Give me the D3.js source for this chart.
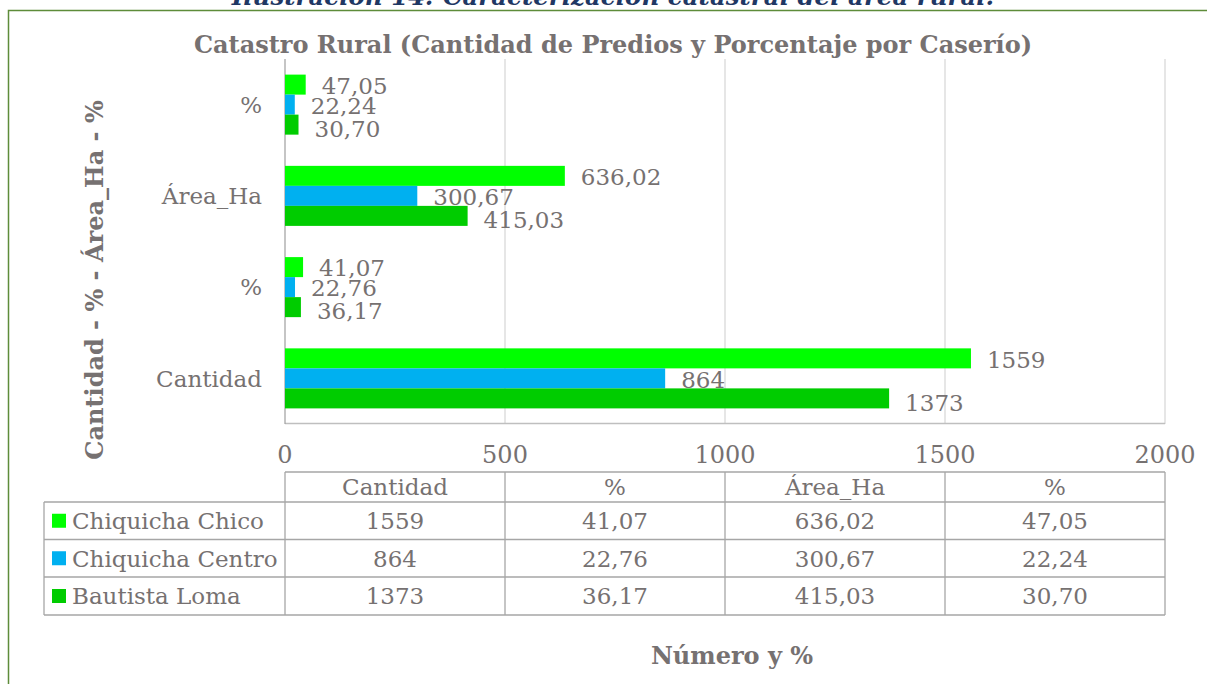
<!DOCTYPE html>
<html>
<head>
<meta charset="utf-8">
<script src="https://cdn.jsdelivr.net/npm/d3@7"></script>
<style>
  body { margin: 0; background: #fff; }
  svg { display: block; font-family: "DejaVu Serif", Georgia, serif; }
</style>
</head>
<body>
<svg id="chart" width="1207" height="684"></svg>
<script>
// categories, bottom to top (same order as the table columns)
let categoryKeys = ["cantidad", "pctCantidad", "area", "pctArea"];
let categoryLabels = ["Cantidad", "%", "Área_Ha", "%"];

let seriesNames = ["Chiquicha Chico", "Chiquicha Centro", "Bautista Loma"];
let seriesColors = ["#00ff00", "#00b0f0", "#00cc00"];

let chicoValues = [1559, 41.07, 636.02, 47.05];
let centroValues = [864, 22.76, 300.67, 22.24];
let bautistaValues = [1373, 36.17, 415.03, 30.70];

let xTicks = [0, 500, 1000, 1500, 2000];

let caption = "Ilustración 14: Caracterización catastral del área rural.";
let title = "Catastro Rural (Cantidad de Predios y Porcentaje por Caserío)";
let yTitle = "Cantidad - % - Área_Ha - %";
let xTitle = "Número y %";

let seriesValues = [chicoValues, centroValues, bautistaValues];

let esLocale = d3.formatLocale({decimal: ",", thousands: ".", grouping: [3], currency: ["", ""]});
let fmtInt = esLocale.format("d");
let fmtDec = esLocale.format(".2f");
let fmt = (v, i) => i === 0 ? fmtInt(v) : fmtDec(v);

let textColor = "#767171";
let fontSize = 23;
let labelShift = [1, 1, 4]; // small vertical nudge of the bar labels per series
let svg = d3.select("#chart");

// green frame of the figure
svg.append("rect")
    .attr("x", 8.5).attr("y", 10.5)
    .attr("width", 1300).attr("height", 800)
    .attr("fill", "none")
    .attr("stroke", "#5e8c3a")
    .attr("stroke-width", 1.5);

// caption, cut at the top edge
svg.append("text")
    .attr("x", 613).attr("y", 4.5)
    .attr("text-anchor", "middle")
    .attr("font-size", 24.5).attr("font-weight", "bold").attr("font-style", "italic")
    .attr("fill", "#1f3864")
    .text(caption);

svg.append("text")
    .attr("x", 613).attr("y", 53)
    .attr("text-anchor", "middle")
    .attr("font-size", 24).attr("font-weight", "bold")
    .attr("fill", textColor)
    .text(title);

let xScale = d3.scaleLinear()
    .domain([0, 2000])
    .range([285, 1165]);

let yScale = d3.scaleBand()
    .domain(categoryKeys.slice().reverse())
    .range([59, 424]);

let ySub = d3.scaleBand()
    .domain(seriesNames)
    .range([0, yScale.bandwidth()])
    .paddingOuter(0.78);

// gridlines
svg.append("g").selectAll("line")
    .data(xTicks.slice(1))
    .join("line")
    .attr("x1", (d) => xScale(d)).attr("x2", (d) => xScale(d))
    .attr("y1", 59).attr("y2", 424)
    .attr("stroke", "#d9d9d9").attr("stroke-width", 1.3);

// bottom line and left axis line
svg.append("line")
    .attr("x1", xScale(0)).attr("x2", xScale(2000))
    .attr("y1", 423.5).attr("y2", 423.5)
    .attr("stroke", "#bfbfbf").attr("stroke-width", 1.3);
svg.append("line")
    .attr("x1", xScale(0)).attr("x2", xScale(0))
    .attr("y1", 59).attr("y2", 424)
    .attr("stroke", "#a6a6a6").attr("stroke-width", 1.3);

// bars
let barData = [];
categoryKeys.forEach((key, ci) => {
    seriesNames.forEach((name, si) => {
        barData.push({key: key, ci: ci, name: name, si: si, value: seriesValues[si][ci]});
    });
});

svg.append("g").selectAll("rect")
    .data(barData)
    .join("rect")
    .attr("x", xScale(0))
    .attr("y", (d) => yScale(d.key) + ySub(d.name))
    .attr("width", (d) => xScale(d.value) - xScale(0))
    .attr("height", ySub.bandwidth())
    .attr("fill", (d) => seriesColors[d.si]);

svg.append("g").selectAll("text")
    .data(barData)
    .join("text")
    .attr("x", (d) => xScale(d.value) + 16)
    .attr("y", (d) => yScale(d.key) + ySub(d.name) + ySub.bandwidth() / 2 + labelShift[d.si])
    .attr("dy", "0.36em")
    .attr("font-size", fontSize)
    .attr("fill", textColor)
    .text((d) => fmt(d.value, d.ci));

// category labels
svg.append("g").selectAll("text")
    .data(categoryKeys)
    .join("text")
    .attr("x", 262)
    .attr("y", (d) => yScale(d) + yScale.bandwidth() / 2)
    .attr("dy", "0.36em")
    .attr("text-anchor", "end")
    .attr("font-size", fontSize)
    .attr("fill", textColor)
    .text((d, i) => categoryLabels[i]);

// x tick labels
svg.append("g").selectAll("text")
    .data(xTicks)
    .join("text")
    .attr("x", (d) => xScale(d))
    .attr("y", 463)
    .attr("text-anchor", "middle")
    .attr("font-size", 24)
    .attr("fill", textColor)
    .text((d) => d);

// y title
svg.append("text")
    .attr("transform", "translate(103,280) rotate(-90)")
    .attr("text-anchor", "middle")
    .attr("font-size", 24).attr("font-weight", "bold")
    .attr("fill", textColor)
    .text(yTitle);

// data table
let colScale = d3.scaleBand()
    .domain(categoryKeys)
    .range([xScale(0), xScale(2000)]);

let rowEdges = [472, 502, 539.5, 577, 615];
let lineColor = "#a6a6a6";
let table = svg.append("g").attr("stroke", lineColor).attr("stroke-width", 1.3);

// horizontal lines
rowEdges.forEach((y, i) => {
    table.append("line")
        .attr("x1", i === 0 ? xScale(0) : 44).attr("x2", xScale(2000))
        .attr("y1", y).attr("y2", y);
});
// vertical lines
colScale.domain().concat(["end"]).forEach((key) => {
    let x = key === "end" ? xScale(2000) : colScale(key);
    table.append("line")
        .attr("x1", x).attr("x2", x)
        .attr("y1", rowEdges[0]).attr("y2", rowEdges[4]);
});
table.append("line")
    .attr("x1", 44).attr("x2", 44)
    .attr("y1", rowEdges[1]).attr("y2", rowEdges[4]);

// header
svg.append("g").selectAll("text")
    .data(categoryKeys)
    .join("text")
    .attr("x", (d) => colScale(d) + colScale.bandwidth() / 2)
    .attr("y", (rowEdges[0] + rowEdges[1]) / 2)
    .attr("dy", "0.36em")
    .attr("text-anchor", "middle")
    .attr("font-size", fontSize)
    .attr("fill", textColor)
    .text((d, i) => categoryLabels[i]);

// rows
seriesNames.forEach((name, si) => {
    let yMid = (rowEdges[si + 1] + rowEdges[si + 2]) / 2;
    svg.append("rect")
        .attr("x", 52).attr("y", yMid - 7)
        .attr("width", 14).attr("height", 14)
        .attr("fill", seriesColors[si]);
    svg.append("text")
        .attr("x", 72).attr("y", yMid)
        .attr("dy", "0.36em")
        .attr("font-size", fontSize)
        .attr("fill", textColor)
        .text(name);
    svg.append("g").selectAll("text")
        .data(seriesValues[si])
        .join("text")
        .attr("x", (d, ci) => colScale(categoryKeys[ci]) + colScale.bandwidth() / 2)
        .attr("y", yMid)
        .attr("dy", "0.36em")
        .attr("text-anchor", "middle")
        .attr("font-size", fontSize)
        .attr("fill", textColor)
        .text((d, ci) => fmt(d, ci));
});

// x title
svg.append("text")
    .attr("x", 732).attr("y", 664)
    .attr("text-anchor", "middle")
    .attr("font-size", 24).attr("font-weight", "bold")
    .attr("fill", textColor)
    .text(xTitle);
</script>
</body>
</html>
